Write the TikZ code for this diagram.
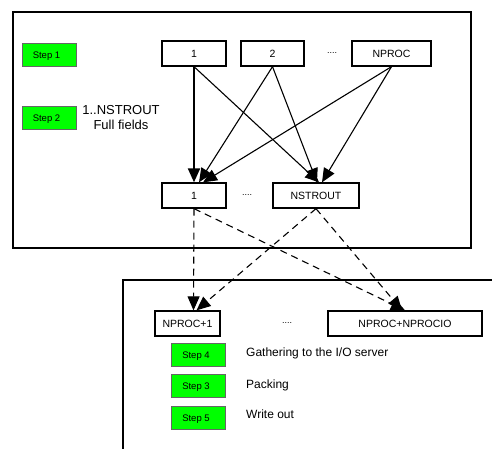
\documentclass[tikz,border=0pt]{standalone}
\usepackage{fontspec}
\setmainfont{Liberation Sans}
\usetikzlibrary{arrows.meta}
\begin{document}
\begin{tikzpicture}[x=1pt,y=-1pt,
  box/.style={draw,line width=1.3pt,minimum height=25pt,inner sep=0pt,font=\fontsize{10.5}{12}\selectfont},
  stepbox/.style={draw=black!60,fill=green,line width=0.7pt,minimum width=54pt,minimum height=23pt,inner sep=0pt,font=\fontsize{9.5}{11}\selectfont,text depth=0pt},
  arr/.style={line width=1.1pt,-{Triangle[length=14pt,width=12pt]}},
  darr/.style={line width=1.1pt,dash pattern=on 7pt off 5pt,-{Triangle[length=14pt,width=12pt]}},
  lbl/.style={font=\fontsize{12}{14}\selectfont,anchor=west,inner sep=0pt}]
\useasboundingbox (0,0) rectangle (492,449);
\fill[white] (0,0) rectangle (492,449);
% frames
\draw[line width=1.5pt] (13,12) rectangle (471,248);
\draw[line width=1.5pt] (123,449) -- (123,280) -- (493,280);
% step boxes
\node[stepbox] (s1) at (49,55) {\hspace*{-5pt}Step 1};
\node[stepbox] (s2) at (49,118) {\hspace*{-5pt}Step 2};
\node[font=\fontsize{13}{15}\selectfont,align=center,inner sep=0pt] (t2) at (121,118) {1..NSTROUT\\Full fields};
% top row
\node[box,minimum width=64pt] (p1) at (194,53.5) {1};
\node[box,minimum width=63pt] (p2) at (272.5,53.5) {2};
\node[font=\fontsize{9}{10}\selectfont] (pd) at (332,53) {....};
\node[box,minimum width=79pt] (pn) at (391.5,53.5) {NPROC};
% middle row
\node[box,minimum width=64pt] (m1) at (194,195.5) {1};
\node[font=\fontsize{9}{10}\selectfont] (md) at (247,195) {....};
\node[box,minimum width=86pt] (mn) at (316,195.5) {NSTROUT};
% bottom row
\node[box,minimum width=65pt] (b1) at (187.5,323.5) {NPROC+1};
\node[font=\fontsize{9}{10}\selectfont] (bd) at (287,323) {....};
\node[box,minimum width=154pt] (bn) at (405,323.5) {NPROC+NPROCIO};
% steps 3-5
\node[stepbox] (s4) at (198.5,355) {\hspace*{-5pt}Step 4};
\node[stepbox] (s3) at (198.5,386) {\hspace*{-5pt}Step 3};
\node[stepbox] (s5) at (198.5,418) {\hspace*{-5pt}Step 5};
\node[lbl] (g4) at (246,353) {Gathering to the I/O server};
\node[lbl] (g3) at (246,385) {Packing};
\node[lbl] (g5) at (246,414) {Write out};
% solid arrows
\draw[arr,line width=2pt] (p1.south) -- (m1.north);
\draw[arr] (p1.south) -- ([xshift=3pt]mn.north);
\draw[arr] (p2.south) -- ([xshift=5pt]m1.north);
\draw[arr] (p2.south) -- ([xshift=1pt]mn.north);
\draw[arr] (pn.south) -- ([xshift=9pt]m1.north);
\draw[arr] (pn.south) -- ([xshift=6pt]mn.north);
% dashed arrows
\draw[darr] (m1.south) -- ([xshift=6pt]b1.north);
\draw[darr] (m1.south) -- ([xshift=0pt]bn.north);
\draw[darr] (mn.south) -- ([xshift=9pt]b1.north);
\draw[darr] (mn.south) -- ([xshift=-3pt]bn.north);
\end{tikzpicture}
\end{document}
